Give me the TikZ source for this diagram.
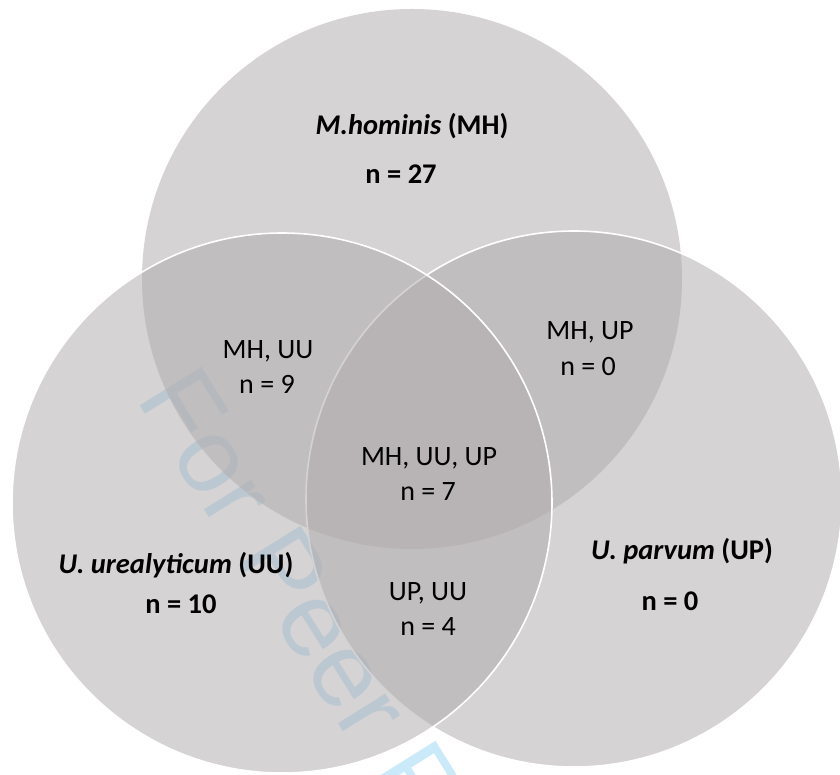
\documentclass[tikz,border=0pt]{standalone}
\usepackage{fontspec}
\setmainfont{Carlito}
\newfontfamily\wmfont{Liberation Sans}
\definecolor{venngray}{RGB}{176,172,174}
\definecolor{wmblue}{RGB}{202,234,249}
\begin{document}
\begin{tikzpicture}[x=1pt,y=-1pt,
  setfill/.style={fill=venngray, fill opacity=0.535},
  setedge/.style={setfill, draw=white, draw opacity=1, line width=1.6pt},
  lbl/.style={anchor=base, inner sep=0pt, font=\fontsize{28}{34}\selectfont},
  biglbl/.style={lbl, font=\fontsize{28.5}{34}\selectfont\bfseries},
  wm/.style={anchor=base west, inner sep=0pt, text=wmblue,
    font=\wmfont\fontsize{106}{120}\selectfont}]
\useasboundingbox (0,0) rectangle (840,775);
\begin{scope}
\clip (0,0) rectangle (840,775);
% watermark (beneath the sets)
\node[wm, rotate=-58] (wmark) at (135,398) {For Peer Review};
% circles: top (MH), right (UP), left (UU)
\path[setfill] (412,279) circle[radius=270];
\path[setedge] (574,499) circle[radius=268];
\path[setedge] (282,503) circle[radius=270];
\end{scope}
% set labels
\node[biglbl] (mh) at (412,135) {\textit{M.hominis} (MH)};
\node[biglbl] (mhn) at (401,184) {n = 27};
\node[biglbl] (uu) at (176,573) {\textit{U. urealyticum} (UU)};
\node[biglbl] (uun) at (181,613) {n = 10};
\node[biglbl] (up) at (682,559) {\textit{U. parvum} (UP)};
\node[biglbl] (upn) at (670,610) {n = 0};
% intersection labels
\node[lbl] (mhuu) at (268,358) {MH, UU};
\node[lbl] (mhuun) at (267,393) {n = 9};
\node[lbl] (mhup) at (590,340) {MH, UP};
\node[lbl] (mhupn) at (588,375) {n = 0};
\node[lbl] (all) at (429,465) {MH, UU, UP};
\node[lbl] (alln) at (428,500) {n = 7};
\node[lbl] (upuu) at (428,600) {UP, UU};
\node[lbl] (upuun) at (428,635) {n = 4};
\end{tikzpicture}
\end{document}
